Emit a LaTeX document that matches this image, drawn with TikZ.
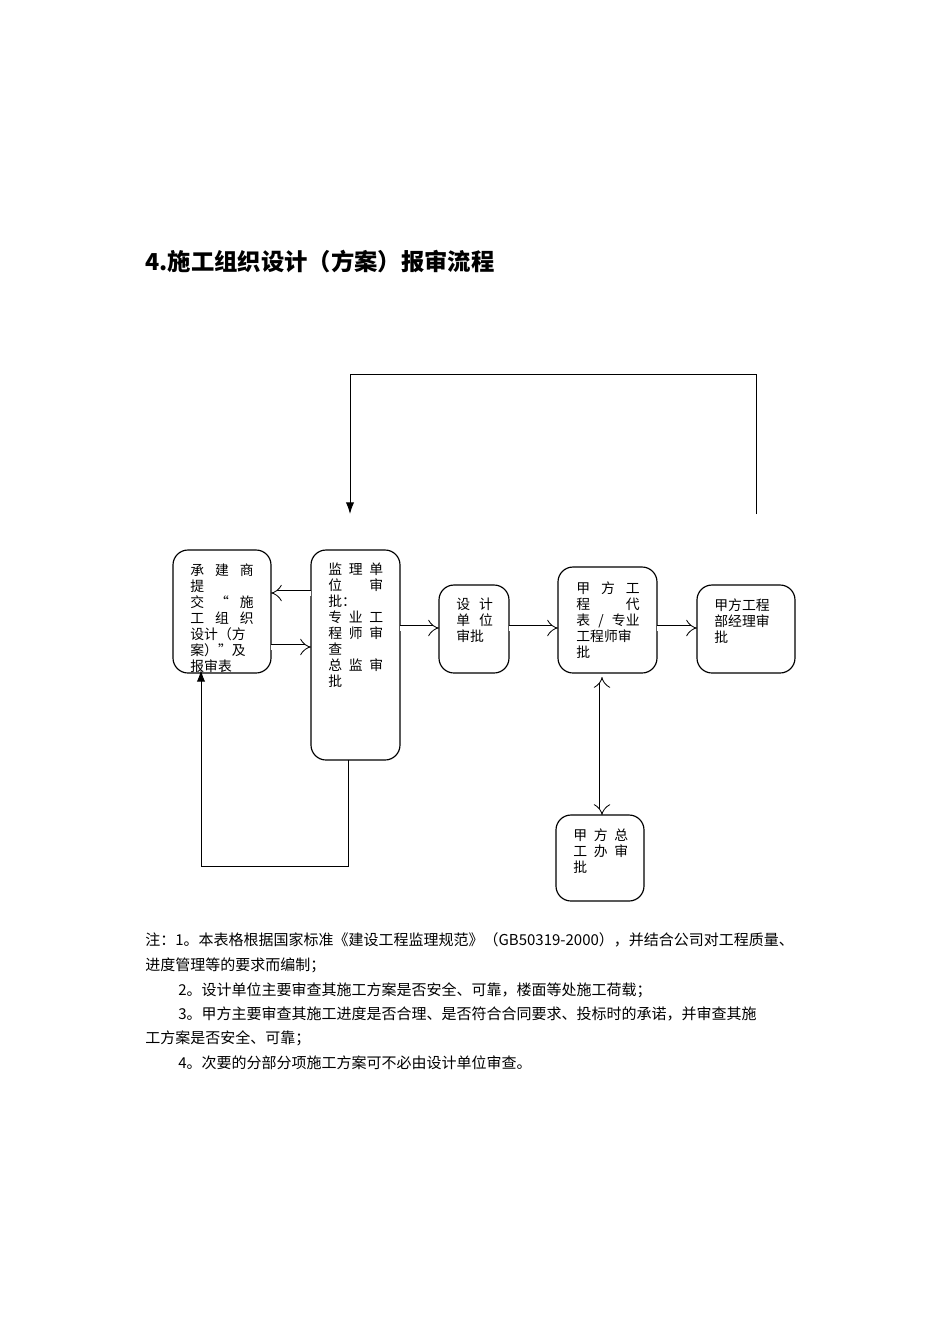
\documentclass[tikz,border=0pt]{standalone}
\usepackage{fontspec}
\setmainfont{Liberation Serif}
\newfontfamily\cjk{Noto Sans CJK SC}
\usetikzlibrary{arrows.meta}
\newcommand{\spreadline}[2]{\makebox[#1][s]{#2}\\}
\tikzset{
  stepbox/.style={draw,rounded corners=9pt,line width=0.7pt},
  boxtext/.style={anchor=north west,inner sep=0pt,font=\cjk\fontsize{8.3}{9.6}\selectfont,align=left},
  flow/.style={double,double distance=3pt,line width=0.5pt,-{Implies[length=6pt,width=8pt]}},
  flowboth/.style={double,double distance=3pt,line width=0.5pt,{Implies[length=6pt,width=8pt]}-{Implies[length=6pt,width=8pt]}},
  loop/.style={line width=0.6pt},
  note/.style={anchor=west,inner sep=0pt,font=\cjk\fontsize{9}{10}\selectfont}
}
\begin{document}
\begin{tikzpicture}[x={(0.6pt,0)},y={(0,-0.6pt)}]
\useasboundingbox (0,0) rectangle (950,1344);
% title
\node[anchor=west,inner sep=0pt,font=\cjk\bfseries\fontsize{14}{16}\selectfont] (title) at (145,262) {4.施工组织设计（方案）报审流程};

% boxes
\draw[stepbox] (173,550) rectangle (271,673);
\draw[stepbox] (311,550) rectangle (400,760);
\draw[stepbox] (439,585) rectangle (509,673);
\draw[stepbox] (558,567) rectangle (657,673);
\draw[stepbox] (697,585) rectangle (795,673);
\draw[stepbox] (556,815) rectangle (644,901);

% texts
\node[boxtext] (tcont) at (190,563) {\spreadline{38pt}{承\hfill 建\hfill 商}\spreadline{38pt}{提\hfill}\spreadline{38pt}{交\hfill “\hfill 施}\spreadline{38pt}{工\hfill 组\hfill 织}\spreadline{38pt}{设计（方}\spreadline{38pt}{案）”及}报审表};
\node[boxtext] (tsup) at (328,563) {\spreadline{33pt}{监\hfill 理\hfill 单}\spreadline{33pt}{位\hfill 审}\spreadline{33pt}{批：\hfill}\spreadline{33pt}{专\hfill 业\hfill 工}\spreadline{33pt}{程\hfill 师\hfill 审}\spreadline{33pt}{查\hfill}\spreadline{33pt}{总\hfill 监\hfill 审}批};
\node[boxtext] (tdes) at (456,598) {\spreadline{22pt}{设\hfill 计}\spreadline{22pt}{单\hfill 位}审批};
\node[boxtext] (town) at (576,581) {\spreadline{38pt}{甲\hfill 方\hfill 工}\spreadline{38pt}{程\hfill 代}\spreadline{38pt}{表\hfill /\hfill 专业}\spreadline{38pt}{工程师审}批};
\node[boxtext] (tmgr) at (714,598) {甲方工程\\部经理审\\批};
\node[boxtext] (tchief) at (573,828) {\spreadline{33pt}{甲\hfill 方\hfill 总}\spreadline{33pt}{工\hfill 办\hfill 审}批};

% hollow arrows
\draw[flow] (311,593) -- (271,593);
\draw[flow] (271,647) -- (311,647);
\draw[flow] (400,628) -- (439,628);
\draw[flow] (509,628) -- (558,628);
\draw[flow] (657,628) -- (697,628);
\draw[flowboth] (602,677) -- (602,815);

% feedback lines
\coordinate (topA) at (756,514);
\coordinate (topB) at (350,514);
\draw[loop,-{Latex[length=7pt,width=5pt]}] (topA) -- (756,374) -- (350,374) -- (topB);
\coordinate (botA) at (348,760);
\coordinate (botB) at (201,670);
\draw[loop,-{Latex[length=7pt,width=5pt]}] (botA) -- (348,866) -- (201,866) -- (botB);

% notes
\node[note] (n1) at (145,940) {注：1。本表格根据国家标准《建设工程监理规范》（GB50319-2000），并结合公司对工程质量、};
\node[note] (n2) at (145,965) {进度管理等的要求而编制；};
\node[note] (n3) at (178,990) {2。设计单位主要审查其施工方案是否安全、可靠，楼面等处施工荷载；};
\node[note] (n4) at (178,1014) {3。甲方主要审查其施工进度是否合理、是否符合合同要求、投标时的承诺，并审查其施};
\node[note] (n5) at (145,1038) {工方案是否安全、可靠；};
\node[note] (n6) at (178,1063) {4。次要的分部分项施工方案可不必由设计单位审查。};
\end{tikzpicture}
\end{document}
